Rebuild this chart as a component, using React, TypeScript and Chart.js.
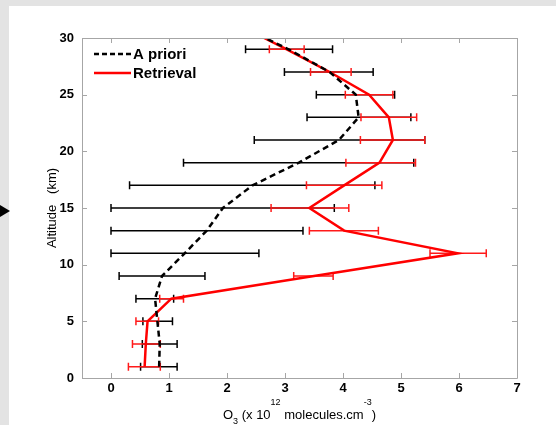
import React, { useEffect, useRef } from "react";
import { Chart, registerables } from "chart.js";

Chart.register(...registerables);

// Altitudes (km) of the error-bar rows
const altitudes = [1, 3, 5, 7, 9, 11, 13, 15, 17, 19, 21, 23, 25, 27, 29];
// Profile altitudes (last point at the top of the plot)
const profileAltitudes = [1, 3, 5, 7, 9, 11, 13, 15, 17, 19, 21, 23, 25, 27, 29, 30];

// O3 (x 10^12 molecules.cm^-3)
const aprioriValues = [0.83, 0.84, 0.8, 0.76, 0.88, 1.27, 1.65, 1.93, 2.44, 3.24, 3.93, 4.27, 4.22, 3.77, 3.06, 2.66];
const retrievalValues = [0.58, 0.6, 0.63, 1.04, 3.5, 5.98, 4.02, 3.42, 4.02, 4.63, 4.86, 4.79, 4.45, 3.77, 3.03, 2.64];

const aprioriLow = [0.51, 0.54, 0.55, 0.43, 0.14, 0.0, 0.0, 0.0, 0.32, 1.25, 2.47, 3.38, 3.54, 2.99, 2.32];
const aprioriHigh = [1.14, 1.14, 1.06, 1.08, 1.62, 2.55, 3.31, 3.85, 4.55, 5.22, 5.41, 5.17, 4.89, 4.52, 3.82];
const retrievalLow = [0.3, 0.37, 0.43, 0.84, 3.15, 5.5, 3.42, 2.76, 3.37, 4.05, 4.3, 4.31, 4.04, 3.44, 2.73];
const retrievalHigh = [0.85, 0.85, 0.82, 1.25, 3.83, 6.47, 4.61, 4.1, 4.67, 5.25, 5.41, 5.27, 4.86, 4.14, 3.33];

const xTicks = [0, 1, 2, 3, 4, 5, 6, 7];
const yTicks = [0, 5, 10, 15, 20, 25, 30];

const seriesNames = ["A priori", "Retrieval"];
const yTitle = "Altitude   (km)";

const FONT = "'Liberation Sans', Arial, Helvetica, sans-serif";

const errorBarPlugin = {
  id: "errorBars",
  beforeDatasetsDraw(chart: any) {
    const { ctx, scales, chartArea } = chart;
    const xs = scales.x;
    const ys = scales.y;
    ctx.save();
    ctx.beginPath();
    ctx.rect(chartArea.left, chartArea.top, chartArea.right - chartArea.left, chartArea.bottom - chartArea.top);
    ctx.clip();
    const drawSet = (low: number[], high: number[], color: string) => {
      ctx.strokeStyle = color;
      ctx.lineWidth = 1.5;
      for (let i = 0; i < altitudes.length; i++) {
        const y = ys.getPixelForValue(altitudes[i]);
        const x1 = xs.getPixelForValue(low[i]);
        const x2 = xs.getPixelForValue(high[i]);
        ctx.beginPath();
        ctx.moveTo(x1, y);
        ctx.lineTo(x2, y);
        ctx.moveTo(x1, y - 4);
        ctx.lineTo(x1, y + 4);
        ctx.moveTo(x2, y - 4);
        ctx.lineTo(x2, y + 4);
        ctx.stroke();
      }
    };
    drawSet(aprioriLow, aprioriHigh, "#000000");
    drawSet(retrievalLow, retrievalHigh, "#ff1a1a");
    ctx.restore();
  },
};

const framePlugin = {
  id: "frame",
  afterDraw(chart: any) {
    const { ctx, scales, chartArea } = chart;
    const xs = scales.x;
    const ys = scales.y;
    const { left, right, top, bottom } = chartArea;
    ctx.save();
    // box
    ctx.strokeStyle = "#a6a6a6";
    ctx.lineWidth = 1;
    ctx.beginPath();
    ctx.rect(Math.round(left) + 0.5, Math.round(top) + 0.5, Math.round(right - left), Math.round(bottom - top));
    ctx.stroke();
    // inward ticks
    ctx.beginPath();
    xTicks.forEach((v) => {
      const x = Math.round(xs.getPixelForValue(v)) + 0.5;
      ctx.moveTo(x, bottom);
      ctx.lineTo(x, bottom - 5);
      ctx.moveTo(x, top);
      ctx.lineTo(x, top + 5);
    });
    yTicks.forEach((v) => {
      const y = Math.round(ys.getPixelForValue(v)) + 0.5;
      ctx.moveTo(left, y);
      ctx.lineTo(left + 5, y);
      ctx.moveTo(right, y);
      ctx.lineTo(right - 5, y);
    });
    ctx.stroke();

    // legend
    const lx1 = left + 12;
    const lx2 = left + 49;
    const ly1 = 54;
    const ly2 = 73;
    ctx.lineWidth = 2.5;
    ctx.strokeStyle = "#000000";
    ctx.setLineDash([5, 3]);
    ctx.beginPath();
    ctx.moveTo(lx1, ly1);
    ctx.lineTo(lx2, ly1);
    ctx.stroke();
    ctx.setLineDash([]);
    ctx.strokeStyle = "#ff0000";
    ctx.beginPath();
    ctx.moveTo(lx1, ly2);
    ctx.lineTo(lx2, ly2);
    ctx.stroke();
    ctx.fillStyle = "#000000";
    ctx.font = `bold 15px ${FONT}`;
    ctx.textAlign = "left";
    ctx.textBaseline = "middle";
    ctx.fillText(seriesNames[0], lx2 + 2, ly1 + 1);
    ctx.fillText(seriesNames[1], lx2 + 2, ly2 + 1);

    // y title
    ctx.save();
    ctx.translate(52, (top + bottom) / 2);
    ctx.rotate(-Math.PI / 2);
    ctx.font = `13px ${FONT}`;
    ctx.textAlign = "center";
    ctx.textBaseline = "middle";
    ctx.fillText(yTitle, 0, 0);
    ctx.restore();

    // x title with sub/superscripts
    const parts: { t: string; size: number; dy: number }[] = [
      { t: "O", size: 13, dy: 0 },
      { t: "3", size: 9, dy: 5 },
      { t: " (x 10", size: 13, dy: 0 },
      { t: "12", size: 9, dy: -14 },
      { t: " molecules.cm", size: 13, dy: 0 },
      { t: "-3", size: 9, dy: -14 },
      { t: ")", size: 13, dy: 0 },
    ];
    let total = 0;
    parts.forEach((p) => {
      ctx.font = `${p.size}px ${FONT}`;
      total += ctx.measureText(p.t).width;
    });
    const baseY = 419;
    let cx = (left + right) / 2 - total / 2;
    ctx.textAlign = "left";
    ctx.textBaseline = "alphabetic";
    parts.forEach((p) => {
      ctx.font = `${p.size}px ${FONT}`;
      ctx.fillText(p.t, cx, baseY + p.dy);
      cx += ctx.measureText(p.t).width;
    });
    ctx.restore();
  },
};

function App() {
  const canvasRef = useRef<HTMLCanvasElement | null>(null);

  useEffect(() => {
    const canvas = canvasRef.current;
    if (!canvas) return;
    const chart = new Chart(canvas, {
      type: "scatter",
      data: {
        datasets: [
          {
            label: seriesNames[0],
            data: profileAltitudes.map((a, i) => ({ x: aprioriValues[i], y: a })),
            showLine: true,
            borderColor: "#000000",
            borderWidth: 2.5,
            borderDash: [6, 4],
            pointRadius: 0,
            fill: false,
          },
          {
            label: seriesNames[1],
            data: profileAltitudes.map((a, i) => ({ x: retrievalValues[i], y: a })),
            showLine: true,
            borderColor: "#ff0000",
            borderWidth: 2.5,
            pointRadius: 0,
            fill: false,
          },
        ],
      },
      options: {
        animation: false,
        responsive: false,
        maintainAspectRatio: false,
        devicePixelRatio: 1,
        layout: { padding: { top: 38, right: 39, left: 0, bottom: 0 } },
        plugins: {
          legend: { display: false },
          tooltip: { enabled: false },
          title: { display: false },
        },
        scales: {
          x: {
            type: "linear",
            min: -0.5,
            max: 7,
            grid: { display: false, drawTicks: false, tickLength: 0 },
            border: { display: false },
            afterBuildTicks: (scale: any) => {
              scale.ticks = xTicks.map((v) => ({ value: v }));
            },
            afterFit: (scale: any) => {
              scale.height = 47;
            },
            ticks: {
              padding: 3,
              color: "#000000",
              font: { family: FONT, size: 13, weight: "bold" },
              callback: (v: any) => String(v),
            },
          },
          y: {
            type: "linear",
            min: 0,
            max: 30,
            grid: { display: false, drawTicks: false, tickLength: 0 },
            border: { display: false },
            afterBuildTicks: (scale: any) => {
              scale.ticks = yTicks.map((v) => ({ value: v }));
            },
            afterFit: (scale: any) => {
              scale.width = 82;
            },
            ticks: {
              padding: 8,
              color: "#000000",
              font: { family: FONT, size: 13, weight: "bold" },
              callback: (v: any) => String(v),
            },
          },
        },
      },
      plugins: [errorBarPlugin, framePlugin],
    } as any);
    return () => chart.destroy();
  }, []);

  return (
    <div
      style={{
        position: "fixed",
        left: 0,
        top: 0,
        width: 556,
        height: 425,
        background: "#e3e3e3",
        overflow: "hidden",
      }}
    >
      <div
        style={{
          position: "absolute",
          left: 9,
          top: 6,
          right: 0,
          bottom: 0,
          background: "#ffffff",
        }}
      />
      <div
        style={{
          position: "absolute",
          left: 0,
          top: 205,
          width: 0,
          height: 0,
          borderTop: "6px solid transparent",
          borderBottom: "6px solid transparent",
          borderLeft: "10px solid #000000",
        }}
      />
      <canvas
        ref={canvasRef}
        width={556}
        height={425}
        style={{ position: "absolute", left: 0, top: 0, width: 556, height: 425 }}
      />
    </div>
  );
}

export default App;
